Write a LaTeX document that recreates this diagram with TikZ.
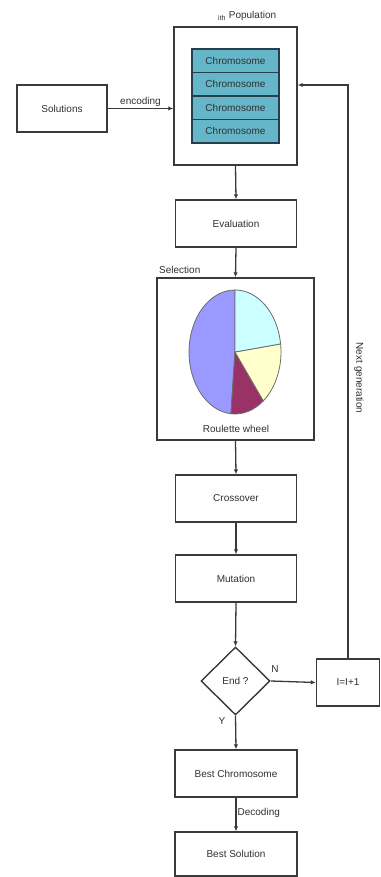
\documentclass[tikz,border=0pt]{standalone}
\usepackage{fontspec}
\setmainfont{Liberation Sans}
\usetikzlibrary{arrows.meta,shapes.geometric,calc}
\definecolor{linec}{HTML}{3A3A3A}
\definecolor{txtc}{HTML}{303030}
\definecolor{chromfill}{HTML}{66B6CA}
\definecolor{chromline}{HTML}{24404C}
\definecolor{pieblue}{HTML}{9999FF}
\definecolor{piemaroon}{HTML}{993366}
\definecolor{pieyellow}{HTML}{FFFFCC}
\definecolor{piecyan}{HTML}{CCFFFF}
\tikzset{
  box/.style={draw=linec, line width=1.4pt, fill=white, inner sep=0pt,
    font=\fontsize{10}{12}\selectfont, text=txtc},
  chrom/.style={draw=chromline, line width=1.2pt, fill=chromfill, inner sep=0pt,
    minimum width=87pt, minimum height=23.5pt, font=\fontsize{10}{12}\selectfont, text=txtc},
  lbl/.style={font=\fontsize{10}{12}\selectfont, text=txtc, inner sep=1pt},
  conn/.style={draw=linec, line width=1.3pt, -{Latex[length=5pt,width=4.5pt]}},
  slice/.style={draw=linec!75, line width=0.8pt}
}
\begin{document}
\begin{tikzpicture}[x=1pt,y=-1pt]
\useasboundingbox (0,0) rectangle (380,877);
% population
\node[box, minimum width=123pt, minimum height=138pt] (pop) at (235.5,96) {};
\node[lbl, anchor=west] (poplbl) at (217,16) {\textsubscript{ith} Population};
\node[chrom] (c1) at (235.5,60.75) {Chromosome};
\node[chrom] (c2) at (235.5,84.25) {Chromosome};
\node[chrom] (c3) at (235.5,107.75) {Chromosome};
\node[chrom] (c4) at (235.5,131.25) {Chromosome};
% solutions
\node[box, minimum width=90pt, minimum height=47pt] (sol) at (62,108.5) {Solutions};
% evaluation
\node[box, minimum width=121pt, minimum height=47pt] (eval) at (236,223.5) {Evaluation};
% selection
\node[box, minimum width=157pt, minimum height=162pt] (sel) at (235.5,359) {};
\node[lbl, anchor=west] (sellbl) at (158,270) {Selection};
\coordinate (pc) at (235,352);
\filldraw[slice, fill=pieblue] (pc) -- ($(pc)+(-90:46 and 62)$) arc[start angle=-90, end angle=-265, x radius=46, y radius=62] -- cycle;
\filldraw[slice, fill=piemaroon] (pc) -- ($(pc)+(-265:46 and 62)$) arc[start angle=-265, end angle=-308, x radius=46, y radius=62] -- cycle;
\filldraw[slice, fill=pieyellow] (pc) -- ($(pc)+(-308:46 and 62)$) arc[start angle=-308, end angle=-367.5, x radius=46, y radius=62] -- cycle;
\filldraw[slice, fill=piecyan] (pc) -- ($(pc)+(-7.5:46 and 62)$) arc[start angle=-7.5, end angle=-90, x radius=46, y radius=62] -- cycle;
\node[lbl] (rw) at (236,429) {Roulette wheel};
% crossover, mutation
\node[box, minimum width=121pt, minimum height=47pt] (cross) at (236,498.5) {Crossover};
\node[box, minimum width=121pt, minimum height=47pt] (mut) at (236,578.5) {Mutation};
% decision
\node[box, diamond, minimum width=69pt, minimum height=68pt] (end) at (235.5,681) {End ?};
\node[box, minimum width=63pt, minimum height=47pt] (inc) at (348,682.5) {I=I+1};
% best
\node[box, minimum width=122pt, minimum height=47pt] (bc) at (236,773.5) {Best Chromosome};
\node[box, minimum width=122pt, minimum height=44pt] (bs) at (236,854) {Best Solution};
% connectors
\draw[conn] (sol.east) -- node[lbl, above] {encoding} (sol.east -| pop.west);
\draw[conn] (pop.south) -- (eval.north);
\draw[conn] (eval.south) -- (sel.north);
\draw[conn] (sel.south) -- (cross.north);
\draw[conn] (cross.south) -- (mut.north);
\draw[conn] (mut.south) -- (end.north);
\draw[conn] (end.east) -- (inc.west);
\node[lbl] (nl) at (275,669) {N};
\draw[conn] (end.south) -- (bc.north);
\node[lbl] (yl) at (222,721) {Y};
\draw[conn] (bc.south) -- node[lbl, right, pos=0.45] {Decoding} (bs.north);
\coordinate (fb) at (0,85);
\draw[conn] (inc.north) |- (pop.east |- fb);
\node[lbl, rotate=-90] (ng) at (359,378) {Next generation};
\end{tikzpicture}
\end{document}
